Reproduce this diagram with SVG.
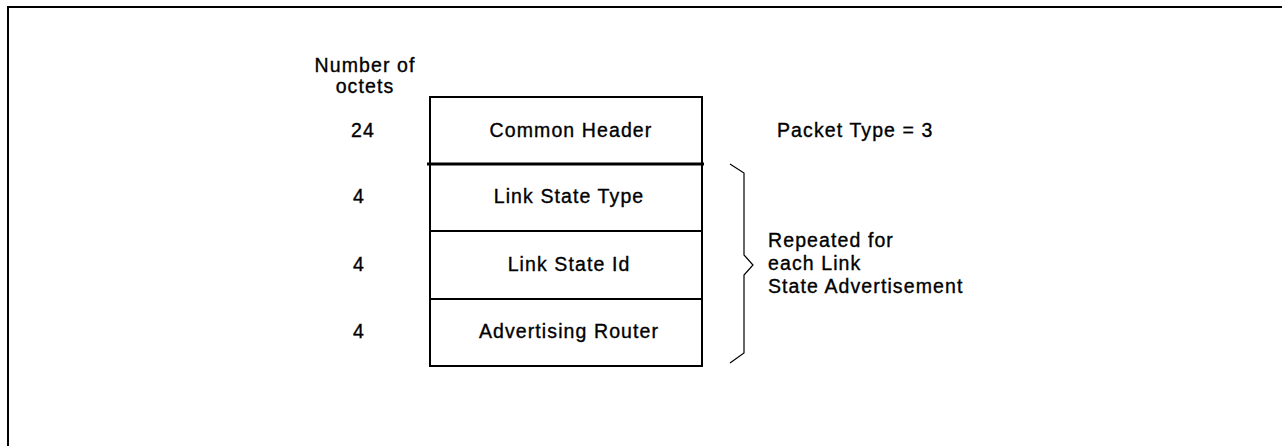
<svg xmlns="http://www.w3.org/2000/svg" width="1282" height="446" viewBox="0 0 1282 446">
<style>
text{font-family:"Liberation Sans",Arial,sans-serif;font-size:19.5px;fill:#000;stroke:#000;stroke-width:0.35;letter-spacing:1.1px}
.c{text-anchor:middle}
.box{fill:#fff;stroke:#000;stroke-width:2}
.frame{stroke:#000;stroke-width:2;fill:none}
</style>
<rect width="1282" height="446" fill="#fff"/>
<path class="frame" d="M8,446 V7 H1282"/>
<g id="labels">
<text class="c" x="365" y="72">Number of</text>
<text class="c" x="365" y="93">octets</text>
<text class="c" x="363" y="137">24</text>
<text class="c" x="359" y="203">4</text>
<text class="c" x="359" y="271">4</text>
<text class="c" x="359" y="338">4</text>
</g>
<g id="node-header">
<rect class="box" x="430" y="97" width="272" height="67"/>
<text class="c" x="571" y="137">Common Header</text>
</g>
<g id="node-lstype">
<rect class="box" x="430" y="164" width="272" height="67"/>
<text class="c" x="569" y="203">Link State Type</text>
</g>
<g id="node-lsid">
<rect class="box" x="430" y="231" width="272" height="68"/>
<text class="c" x="569" y="271">Link State Id</text>
</g>
<g id="node-advrouter">
<rect class="box" x="430" y="299" width="272" height="67"/>
<text class="c" x="569" y="338">Advertising Router</text>
</g>
<g id="connectors">
<line x1="427" y1="164" x2="704" y2="164" stroke="#000" stroke-width="3"/>
<path d="M730,164 L744,173 V255 L753,265 L744,275 V353 L730,363" fill="none" stroke="#000" stroke-width="1.2"/>
</g>
<g id="annotations">
<text x="777" y="137">Packet Type = 3</text>
<text x="768" y="247">Repeated for</text>
<text x="768" y="270">each Link</text>
<text x="768" y="293">State Advertisement</text>
</g>
</svg>
